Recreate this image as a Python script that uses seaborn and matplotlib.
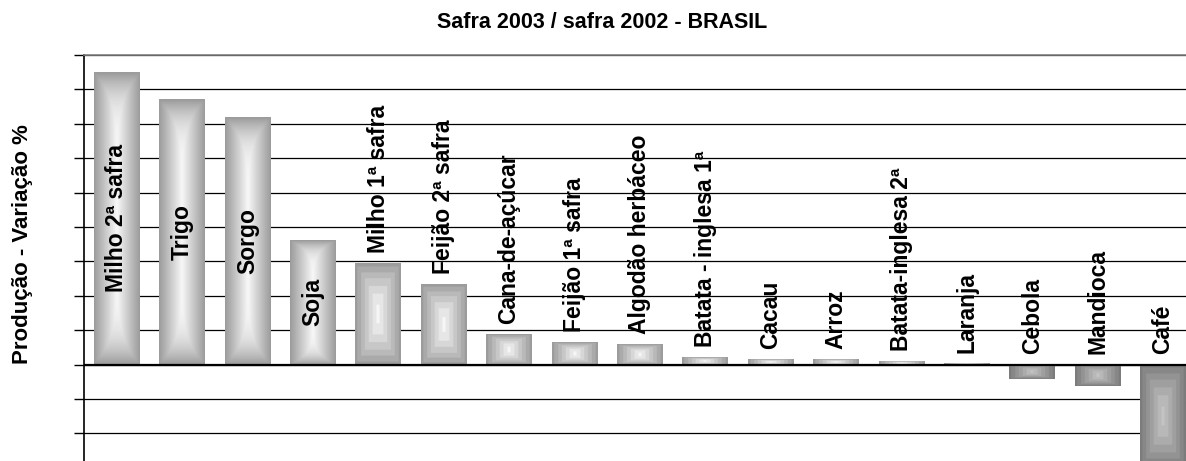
"""
Barplot da variação da produção por cultura, safra 2003 / safra 2002.
"""

import numpy as np
import pandas as pd
import seaborn as sns
import matplotlib.pyplot as plt
from matplotlib.colors import LinearSegmentedColormap

culturas = ['Milho 2ª safra', 'Trigo', 'Sorgo', 'Soja', 'Milho 1ª safra',
            'Feijão 2ª safra', 'Cana-de-açúcar', 'Feijão 1ª safra',
            'Algodão herbáceo', 'Batata - inglesa 1ª', 'Cacau', 'Arroz',
            'Batata-inglesa 2ª', 'Laranja', 'Cebola', 'Mandioca', 'Café']
variacao = [85.0, 77.2, 72.0, 36.2, 29.5, 23.4, 8.8, 6.5, 6.0, 2.2, 1.6,
            1.6, 1.0, 0.5, -4.3, -6.3, -30.0]

df = pd.DataFrame({'Cultura': culturas, 'Variacao': variacao})

sns.set_style('white')
plt.rcParams['font.family'] = ['Liberation Sans', 'DejaVu Sans']
plt.rcParams['text.color'] = 'black'

fig = plt.figure(figsize=(11.86, 4.61), dpi=100)
ax = fig.add_axes([84 / 1186, 0, 1 - 84 / 1186, (461 - 55) / 461])

sns.barplot(data=df, x='Cultura', y='Variacao', color='#a0a0a0', width=0.7,
            linewidth=0, ax=ax, zorder=2)

# gradient fill inside each bar (light centre, grey border)
pos_cmap = LinearSegmentedColormap.from_list('pos', ['#f6f6f6', '#c8c8c8', '#9c9c9c'])
neg_cmap = LinearSegmentedColormap.from_list('neg', ['#c4c4c4', '#a0a0a0', '#7c7c7c'])
u = np.linspace(-1, 1, 60)
v = np.linspace(-1, 1, 120)
U, V = np.meshgrid(u, v)
for patch, val in zip(ax.patches, variacao):
    x0, y0 = patch.get_x(), patch.get_y()
    w, h = patch.get_width(), patch.get_height()
    y_lo, y_hi = min(y0, y0 + h), max(y0, y0 + h)
    tall = abs(h) > 30
    t = np.maximum(np.abs(U), np.abs(V) ** (6 if tall else 1.5))
    if not tall:
        t = np.round(t * 6) / 6
    im = ax.imshow(t, cmap=neg_cmap if val < 0 else pos_cmap,
                   extent=[x0, x0 + w, y_lo, y_hi], aspect='auto',
                   origin='lower', zorder=3, interpolation='bilinear')
    im.set_clip_path(patch)

ax.set_xlim(-0.5, 16.35)
ax.set_ylim(-28, 90)

# category labels, rotated
for i, (nome, val) in enumerate(zip(culturas, variacao)):
    if val > 30:
        ax.text(i, val / 2, nome, rotation=90, ha='center', va='center',
                fontsize=16.5, fontweight='bold', color='black', zorder=5)
    else:
        ax.text(i, max(val, 0) + 3, nome, rotation=90, ha='center',
                va='bottom', fontsize=16.5, fontweight='bold', color='black',
                zorder=5)

ax.set_yticks(np.arange(-20, 91, 10))
ax.set_yticklabels([])
ax.set_xticks([])
ax.set_xlabel('')
ax.set_ylabel('')
ax.tick_params(axis='y', direction='out', length=7, width=1, color='black', left=True)
ax.yaxis.grid(True, color='black', linewidth=0.9)
ax.set_axisbelow(True)
ax.axhline(0, color='black', linewidth=1.6, zorder=4)

sns.despine(ax=ax, top=False, right=True, bottom=True)
ax.spines['left'].set_color('black')
ax.spines['left'].set_linewidth(1.2)
ax.spines['top'].set_color('#7f7f7f')
ax.spines['top'].set_linewidth(1.2)

fig.text(602 / 1186, 1 - 23 / 461, 'Safra 2003 / safra 2002 - BRASIL',
         ha='center', va='center', fontsize=15.5, fontweight='bold')
fig.text(23 / 1186, 1 - 244 / 461, 'Produção - Variação %', rotation=90,
         ha='center', va='center', fontsize=16, fontweight='bold')

fig.savefig('out.png', dpi=100)
